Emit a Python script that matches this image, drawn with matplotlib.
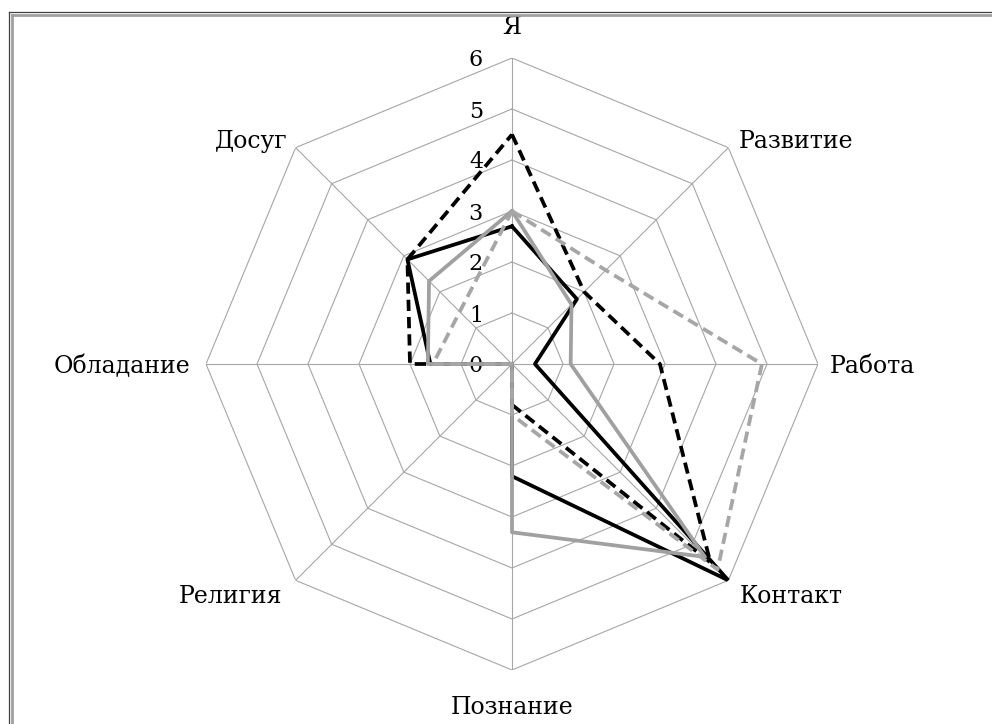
import numpy as np
import matplotlib
matplotlib.use("Agg")
import matplotlib.pyplot as plt
from matplotlib.lines import Line2D

categories = ["Я", "Развитие", "Работа", "Контакт", "Познание", "Религия", "Обладание", "Досуг"]
ticks = [0, 1, 2, 3, 4, 5, 6]
black_solid = [2.7, 1.8, 0.45, 6.0, 2.2, 0, 1.6, 2.9]
black_dashed = [4.5, 2.0, 2.9, 5.5, 0.8, 0, 2.0, 2.9]
gray_solid = [3.0, 1.65, 1.15, 5.35, 3.3, 0, 1.65, 2.3]
gray_dashed = [3.0, 2.6, 4.9, 5.7, 1.0, 0, 1.55, 1.45]

W, H = 992, 724
fig = plt.figure(figsize=(W / 100, H / 100), dpi=100)
fig.patch.set_facecolor("white")

cx, cy, R = 512, 364, 306
ax = fig.add_axes([(cx - R) / W, (H - cy - R) / H, 2 * R / W, 2 * R / H], projection="polar")
ax.set_theta_zero_location("N")
ax.set_theta_direction(-1)
ax.set_ylim(0, 6)
ax.grid(False)
ax.set_xticks([])
ax.set_yticks([])
ax.spines["polar"].set_visible(False)
ax.patch.set_alpha(0)

n = len(categories)
theta = np.arange(n) * 2 * np.pi / n
theta_c = np.append(theta, theta[0])

grid_col = "#a6a6a6"
for t in ticks[1:]:
    ax.plot(theta_c, [t] * (n + 1), color=grid_col, lw=0.8, zorder=1)
for th in theta:
    ax.plot([th, th], [0, ticks[-1]], color=grid_col, lw=0.8, zorder=1)

def close(v):
    return list(v) + [v[0]]

lw = 2.7
dash = (0, (3.0, 1.6))
ax.plot(theta_c, close(black_solid), color="black", lw=lw, zorder=3)
ax.plot(theta_c, close(black_dashed), color="black", lw=lw, ls=dash, zorder=3)
ax.plot(theta_c, close(gray_solid), color="#a0a0a0", lw=lw, zorder=4)
ax.plot(theta_c, close(gray_dashed), color="#a6a6a6", lw=lw, ls=dash, zorder=4)

font = ["DejaVu Serif"]
fs = 17
for t in ticks:
    ax.annotate(str(t), xy=(0, t), xytext=(-29, 0), textcoords="offset pixels",
                ha="right", va="center_baseline", fontsize=fs - 1, family=font, annotation_clip=False)

offsets = [((0, 33), "center", "center_baseline"),
           ((10, 9), "left", "center_baseline"),
           ((12, 0), "left", "center_baseline"),
           ((11, -14), "left", "center_baseline"),
           ((0, -35), "center", "center_baseline"),
           ((-13, -14), "right", "center_baseline"),
           ((-16, 0), "right", "center_baseline"),
           ((-8, 9), "right", "center_baseline")]
for th, lab, (off, ha, va) in zip(theta, categories, offsets):
    ax.annotate(lab, xy=(th, ticks[-1]), xytext=off, textcoords="offset pixels",
                ha=ha, va=va, fontsize=fs, family=font, annotation_clip=False)

# frame (cut off at right and bottom)
def px(x, y):
    return x / W, 1 - y / H
x0, y0 = px(9, 12)
fig.add_artist(Line2D([x0, x0], [0, y0], color="#404040", lw=0.9))
fig.add_artist(Line2D([x0, 1], [y0, y0], color="#404040", lw=0.9))
x1, y1 = px(11.5, 14.5)
fig.add_artist(Line2D([x1, x1], [0, y1], color="#a0a0a0", lw=2.0))
fig.add_artist(Line2D([x1, 1], [y1, y1], color="#a0a0a0", lw=2.0))

fig.savefig("out.png", dpi=100)
